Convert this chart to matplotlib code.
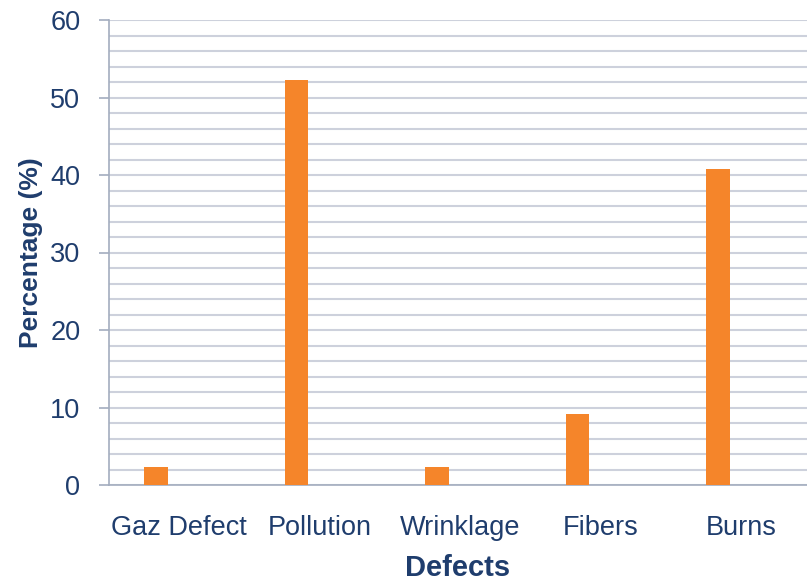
import numpy as np
import matplotlib
matplotlib.use("Agg")
import matplotlib.pyplot as plt
from matplotlib.ticker import MultipleLocator

# defect shares, percent
defects = ["Gaz Defect", "Pollution", "Wrinklage", "Fibers", "Burns"]
percentage = [2.3, 52.2, 2.3, 9.1, 40.8]

navy = "#1F3D6D"
orange = "#F5852A"
grid_col = "#CDD1DC"
axis_col = "#A3ADBF"

plt.rcParams["font.family"] = ["Liberation Sans", "DejaVu Sans"]

fig = plt.figure(figsize=(8.07, 5.84), dpi=100)
ax = fig.add_axes([109 / 807, 1 - 485 / 584, 1 - 109 / 807, 465 / 584])

x = np.arange(len(defects))
ax.bar(x - 0.164, percentage, width=0.167, color=orange, zorder=3)

ax.set_xlim(-0.5, 4.468)
ax.set_ylim(0, 60)
ax.yaxis.set_major_locator(MultipleLocator(10))
ax.yaxis.set_minor_locator(MultipleLocator(2))
ax.grid(axis="y", which="both", color=grid_col, linewidth=1.5, zorder=0)
ax.set_axisbelow(True)

for side in ["top", "right"]:
    ax.spines[side].set_visible(False)
ax.spines["left"].set_color(axis_col)
ax.spines["left"].set_linewidth(1.2)
ax.spines["bottom"].set_color(axis_col)
ax.spines["bottom"].set_linewidth(1.2)

ax.tick_params(axis="y", which="major", length=7.2, width=1.2, color=axis_col,
               labelsize=19.5, labelcolor=navy, pad=13.5)
ax.tick_params(axis="y", which="minor", length=0)
ax.tick_params(axis="x", length=0, labelsize=19.5, labelcolor=navy, pad=21.5)
ax.set_xticks(x)
ax.set_xticklabels(defects)

ax.set_xlabel("Defects", fontsize=21, fontweight="bold", color=navy)
ax.xaxis.set_label_coords(0.5, -0.149)
ax.set_ylabel("Percentage (%)", fontsize=19, fontweight="bold", color=navy)
ax.yaxis.set_label_coords(-0.0946, 0.5)

fig.savefig("out.png", dpi=100)
